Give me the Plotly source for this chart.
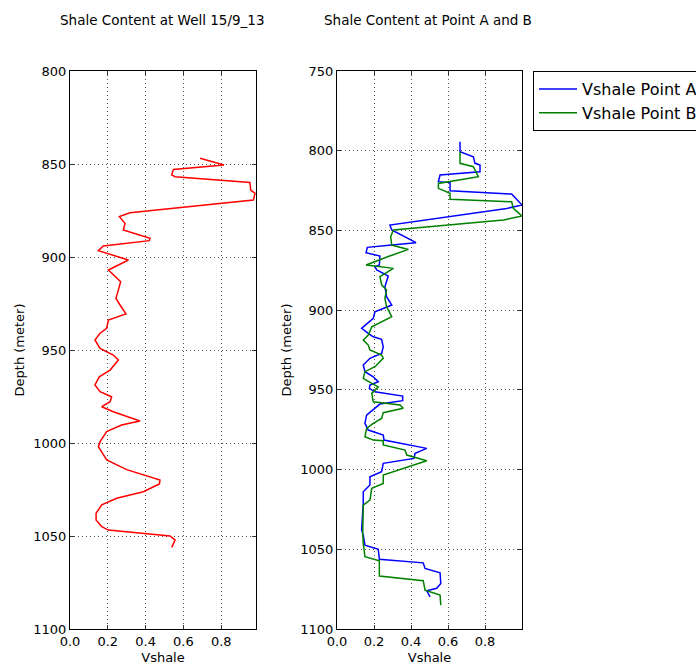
import plotly.graph_objects as go

# ---- Data ----
well_depth = [846.9, 850.5, 852.9, 855.9, 856.8, 859.9, 864.0, 865.8, 869.4, 871.0,
              876.2, 878.3, 881.9, 885.5, 889.9, 891.2, 894.1, 896.6, 898.4, 901.6,
              907.0, 909.7, 913.3, 917.7, 922.2, 925.8, 930.6, 933.9, 938.3, 941.0,
              944.6, 949.1, 952.7, 955.4, 960.8, 964.4, 968.8, 972.4, 975.1, 977.8,
              980.5, 983.2, 988.2, 990.3, 993.9, 999.3, 1002.0, 1009.1, 1014.3, 1019.9,
              1022.0, 1026.2, 1029.7, 1033.3, 1037.8, 1041.4, 1045.0, 1046.8, 1050.0,
              1052.2, 1056.1]
well_vsh = [0.688, 0.815, 0.547, 0.538, 0.556, 0.952, 0.956, 0.979, 0.970, 0.811,
            0.317, 0.261, 0.291, 0.282, 0.423, 0.420, 0.176, 0.150, 0.203, 0.309,
            0.203, 0.229, 0.268, 0.256, 0.243, 0.265, 0.296, 0.203, 0.194, 0.159,
            0.132, 0.159, 0.229, 0.256, 0.212, 0.155, 0.132, 0.159, 0.220, 0.212,
            0.168, 0.229, 0.370, 0.273, 0.194, 0.159, 0.150, 0.194, 0.300, 0.476,
            0.473, 0.388, 0.247, 0.168, 0.138, 0.138, 0.168, 0.203, 0.529,
            0.556, 0.538]

a_depth = [794.3, 800.6, 803.8, 807.9, 809.0, 813.2, 815.2, 819.4, 820.0, 825.1,
           827.2, 834.1, 836.2, 846.6, 849.7, 857.7, 859.2, 860.6, 864.0, 866.1,
           871.7, 872.8, 874.8, 878.6, 885.3, 891.6, 896.8, 901.0, 905.2, 911.4,
           914.6, 916.7, 918.3, 923.0, 927.1, 930.2, 934.4, 938.6, 941.8, 944.9,
           947.0, 949.1, 951.2, 953.9, 956.8, 958.9, 965.8, 971.0, 975.2, 978.4,
           981.5, 986.7, 989.8, 993.0, 996.1, 1001.4, 1004.5, 1009.7, 1013.9, 1021.2,
           1037.9, 1041.1, 1047.4, 1050.0, 1056.3, 1058.5, 1062.0, 1064.7, 1071.4,
           1074.5, 1076.0, 1079.8]
a_vsh = [0.665, 0.665, 0.737, 0.746, 0.773, 0.773, 0.557, 0.548, 0.611, 0.611,
         0.944, 1.000, 0.917, 0.286, 0.296, 0.427, 0.296, 0.164, 0.157, 0.232,
         0.229, 0.205, 0.215, 0.277, 0.259, 0.268, 0.296, 0.205, 0.196, 0.133,
         0.169, 0.196, 0.241, 0.250, 0.241, 0.178, 0.142, 0.151, 0.196, 0.223,
         0.178, 0.175, 0.205, 0.355, 0.355, 0.232, 0.160, 0.151, 0.169, 0.250,
         0.254, 0.485, 0.422, 0.416, 0.250, 0.241, 0.178, 0.178, 0.142, 0.142,
         0.133, 0.142, 0.151, 0.223, 0.229, 0.466, 0.476, 0.557, 0.561,
         0.539, 0.485, 0.503]

b_depth = [800.6, 807.9, 810.0, 816.3, 820.5, 823.6, 826.7, 830.5, 832.0, 836.2,
           841.0, 843.5, 849.7, 854.0, 859.2, 861.9, 866.4, 871.7, 872.3, 873.8,
           879.0, 884.3, 887.4, 892.6, 897.9, 904.1, 910.4, 915.6, 918.8, 921.9,
           925.0, 928.2, 930.2, 935.5, 938.6, 942.8, 945.9, 948.1, 952.2, 957.5,
           959.5, 961.6, 964.3, 967.9, 971.0, 974.2, 979.4, 981.5, 981.9, 984.6,
           987.8, 990.9, 994.5, 1003.5, 1008.7, 1011.8, 1019.1, 1022.3, 1040.0,
           1046.3, 1054.7, 1057.2, 1066.8, 1069.7, 1075.6, 1078.7, 1085.0]
b_vsh = [0.665, 0.665, 0.737, 0.764, 0.548, 0.548, 0.611, 0.611, 0.944, 0.953,
         1.000, 0.899, 0.305, 0.290, 0.296, 0.386, 0.277, 0.157, 0.205, 0.305,
         0.232, 0.242, 0.268, 0.259, 0.268, 0.296, 0.188, 0.169, 0.142, 0.169,
         0.178, 0.241, 0.250, 0.205, 0.151, 0.142, 0.188, 0.223, 0.188, 0.196,
         0.341, 0.358, 0.250, 0.241, 0.196, 0.160, 0.151, 0.196, 0.250, 0.250,
         0.368, 0.377, 0.485, 0.250, 0.250, 0.188, 0.178, 0.142, 0.139,
         0.142, 0.151, 0.229, 0.229, 0.466, 0.476, 0.557, 0.561]

x_ticks = [0.0, 0.2, 0.4, 0.6, 0.8]
x_ticklabels = ["0.0", "0.2", "0.4", "0.6", "0.8"]
left_depth_ticks = [800, 850, 900, 950, 1000, 1050, 1100]
right_depth_ticks = [750, 800, 850, 900, 950, 1000, 1050, 1100]

W, H = 696, 665
FONT = "DejaVu Sans"
T, B = 71, 36
plot_h = H - T - B

fig = go.Figure()
fig.add_trace(go.Scatter(x=well_vsh, y=well_depth, mode="lines",
                         line=dict(color="#ff0000", width=1.5),
                         showlegend=False, xaxis="x", yaxis="y"))
fig.add_trace(go.Scatter(x=a_vsh, y=a_depth, mode="lines", name="Vshale Point A",
                         line=dict(color="#0000ff", width=1.5),
                         xaxis="x2", yaxis="y2"))
fig.add_trace(go.Scatter(x=b_vsh, y=b_depth, mode="lines", name="Vshale Point B",
                         line=dict(color="#008000", width=1.5),
                         xaxis="x2", yaxis="y2"))

ax_common = dict(showline=True, linecolor="black", linewidth=1.3, mirror="ticks",
                 ticks="inside", ticklen=4, tickcolor="#333333",
                 showgrid=True, gridcolor="#555555", griddash="1px,3px", gridwidth=1,
                 zeroline=False, tickfont=dict(family=FONT, size=13, color="black"))

title_y = 1 + (T - 20) / plot_h

fig.update_layout(
    width=W, height=H,
    margin=dict(l=0, r=0, t=T, b=B, autoexpand=False),
    paper_bgcolor="white", plot_bgcolor="white",
    font=dict(family=FONT, size=13, color="black"),
    xaxis=dict(domain=[70 / W, 256 / W], range=[0, 0.984], tickvals=x_ticks,
               ticktext=x_ticklabels, anchor="y",
               title=dict(text="Vshale", font=dict(size=13), standoff=5), **ax_common),
    yaxis=dict(domain=[0, 1], range=[1100, 800], tickvals=left_depth_ticks, anchor="x",
               title=dict(text="Depth (meter)", font=dict(size=13), standoff=5), **ax_common),
    xaxis2=dict(domain=[337 / W, 522 / W], range=[0, 1.0], tickvals=x_ticks,
                ticktext=x_ticklabels, anchor="y2",
                title=dict(text="Vshale", font=dict(size=13), standoff=5), **ax_common),
    yaxis2=dict(domain=[0, 1], range=[1100, 750], tickvals=right_depth_ticks, anchor="x2",
                title=dict(text="Depth (meter)", font=dict(size=13), standoff=5), **ax_common),
    legend=dict(x=533 / W, y=1.0, xanchor="left", yanchor="top",
                bordercolor="black", borderwidth=1, bgcolor="white",
                itemwidth=38,
                font=dict(family=FONT, size=16), tracegroupgap=0),
    annotations=[
        dict(text="Shale Content at Well 15/9_13", x=162 / W, y=title_y,
             xref="paper", yref="paper", xanchor="center", yanchor="middle",
             showarrow=False, font=dict(family=FONT, size=13.5)),
        dict(text="Shale Content at Point A and B", x=428 / W, y=title_y,
             xref="paper", yref="paper", xanchor="center", yanchor="middle",
             showarrow=False, font=dict(family=FONT, size=13.5)),
    ],
)

fig.write_html("out.html")
